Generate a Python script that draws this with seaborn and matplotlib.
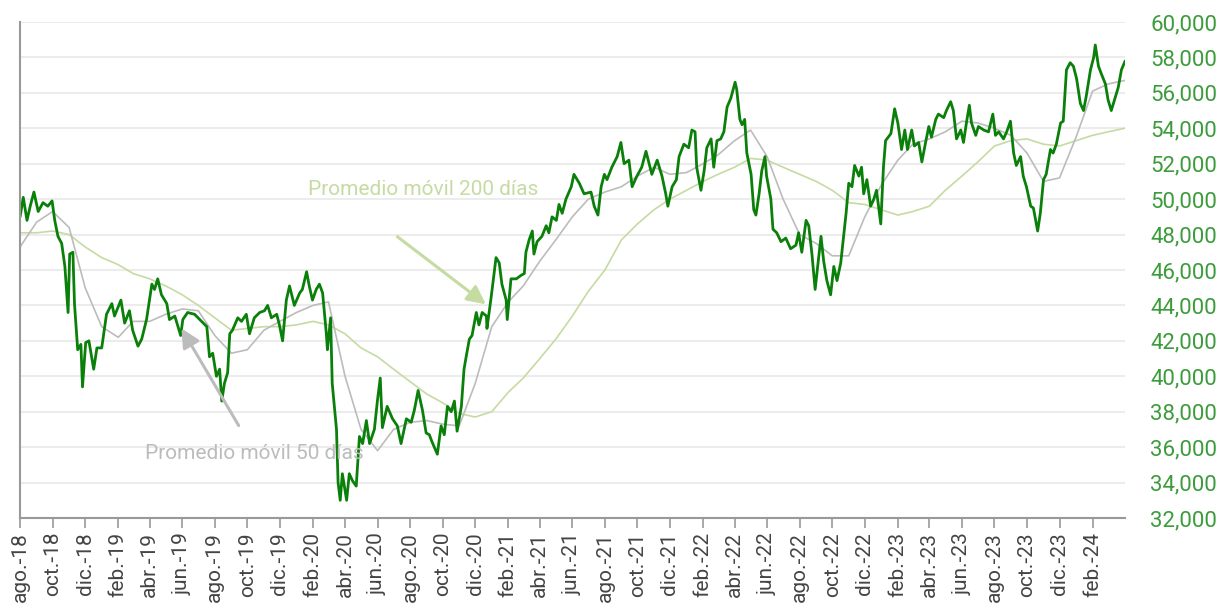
import numpy as np
import pandas as pd
import matplotlib
matplotlib.use("Agg")
import matplotlib.pyplot as plt
import matplotlib.ticker as mticker
import seaborn as sns

# precio diario (lecturas del gráfico)
price_dates = [
    "2018-08-01", "2018-08-07", "2018-08-14", "2018-08-20", "2018-08-27", "2018-09-04", "2018-09-13", "2018-09-22",
    "2018-09-30", "2018-10-05", "2018-10-11", "2018-10-18", "2018-10-24", "2018-10-30", "2018-11-02", "2018-11-08",
    "2018-11-11", "2018-11-17", "2018-11-23", "2018-11-26", "2018-12-02", "2018-12-08", "2018-12-13", "2018-12-17",
    "2018-12-23", "2019-01-01", "2019-01-10", "2019-01-20", "2019-01-25", "2019-02-06", "2019-02-13", "2019-02-22",
    "2019-02-28", "2019-03-10", "2019-03-17", "2019-03-26", "2019-04-05", "2019-04-10", "2019-04-16", "2019-04-23",
    "2019-05-03", "2019-05-08", "2019-05-18", "2019-05-29", "2019-06-02", "2019-06-11", "2019-06-24", "2019-07-07",
    "2019-07-17", "2019-07-22", "2019-07-28", "2019-08-04", "2019-08-10", "2019-08-14", "2019-08-19", "2019-08-25",
    "2019-08-29", "2019-09-03", "2019-09-13", "2019-09-20", "2019-09-29", "2019-10-05", "2019-10-14", "2019-10-24",
    "2019-11-02", "2019-11-08", "2019-11-15", "2019-11-25", "2019-11-30", "2019-12-06", "2019-12-13", "2019-12-19",
    "2019-12-28", "2020-01-07", "2020-01-12", "2020-01-20", "2020-01-25", "2020-01-31", "2020-02-07", "2020-02-13",
    "2020-02-19", "2020-02-26", "2020-02-28", "2020-03-05", "2020-03-08", "2020-03-12", "2020-03-16", "2020-03-19",
    "2020-03-23", "2020-03-27", "2020-04-04", "2020-04-09", "2020-04-15", "2020-04-22", "2020-04-28", "2020-05-04",
    "2020-05-11", "2020-05-17", "2020-05-26", "2020-06-01", "2020-06-06", "2020-06-10", "2020-06-19", "2020-06-29",
    "2020-07-08", "2020-07-15", "2020-07-25", "2020-08-03", "2020-08-09", "2020-08-16", "2020-08-24", "2020-08-31",
    "2020-09-06", "2020-09-11", "2020-09-21", "2020-09-28", "2020-10-04", "2020-10-10", "2020-10-17", "2020-10-23",
    "2020-10-28", "2020-11-05", "2020-11-10", "2020-11-14", "2020-11-20", "2020-11-25", "2020-12-03", "2020-12-08",
    "2020-12-14", "2020-12-22", "2020-12-23", "2020-12-31", "2021-01-09", "2021-01-15", "2021-01-20", "2021-01-28",
    "2021-01-30", "2021-02-06", "2021-02-16", "2021-02-25", "2021-03-03", "2021-03-06", "2021-03-12", "2021-03-18",
    "2021-03-21", "2021-03-27", "2021-04-05", "2021-04-13", "2021-04-18", "2021-04-24", "2021-05-02", "2021-05-07",
    "2021-05-13", "2021-05-20", "2021-05-30", "2021-06-04", "2021-06-14", "2021-06-23", "2021-07-06", "2021-07-12",
    "2021-07-19", "2021-07-25", "2021-07-31", "2021-08-05", "2021-08-14", "2021-08-24", "2021-08-31", "2021-09-06",
    "2021-09-15", "2021-09-21", "2021-09-30", "2021-10-09", "2021-10-17", "2021-10-23", "2021-10-28", "2021-11-07",
    "2021-11-16", "2021-11-23", "2021-11-27", "2021-12-05", "2021-12-13", "2021-12-18", "2021-12-27", "2022-01-05",
    "2022-01-11", "2022-01-17", "2022-01-20", "2022-01-28", "2022-02-03", "2022-02-08", "2022-02-16", "2022-02-21",
    "2022-02-27", "2022-03-06", "2022-03-12", "2022-03-18", "2022-03-25", "2022-04-02", "2022-04-05", "2022-04-11",
    "2022-04-15", "2022-04-20", "2022-04-24", "2022-05-02", "2022-05-07", "2022-05-11", "2022-05-17", "2022-05-22",
    "2022-05-28", "2022-05-31", "2022-06-08", "2022-06-12", "2022-06-19", "2022-06-27", "2022-07-06", "2022-07-15",
    "2022-07-25", "2022-07-30", "2022-08-05", "2022-08-13", "2022-08-18", "2022-08-24", "2022-08-30", "2022-09-10",
    "2022-09-15", "2022-09-21", "2022-09-28", "2022-10-04", "2022-10-10", "2022-10-17", "2022-10-27", "2022-11-01",
    "2022-11-07", "2022-11-12", "2022-11-20", "2022-11-25", "2022-11-29", "2022-12-05", "2022-12-12", "2022-12-18",
    "2022-12-23", "2022-12-31", "2023-01-05", "2023-01-09", "2023-01-19", "2023-01-26", "2023-02-01", "2023-02-08",
    "2023-02-14", "2023-02-19", "2023-02-27", "2023-03-04", "2023-03-12", "2023-03-18", "2023-03-25", "2023-03-31",
    "2023-04-05", "2023-04-13", "2023-04-18", "2023-04-28", "2023-05-03", "2023-05-11", "2023-05-16", "2023-05-22",
    "2023-05-30", "2023-06-04", "2023-06-10", "2023-06-15", "2023-06-19", "2023-06-27", "2023-07-02", "2023-07-12",
    "2023-07-21", "2023-07-29", "2023-08-03", "2023-08-09", "2023-08-18", "2023-08-24", "2023-08-31", "2023-09-06",
    "2023-09-11", "2023-09-19", "2023-09-24", "2023-09-30", "2023-10-08", "2023-10-13", "2023-10-21", "2023-10-26",
    "2023-11-01", "2023-11-06", "2023-11-14", "2023-11-19", "2023-11-25", "2023-12-03", "2023-12-08", "2023-12-14",
    "2023-12-21", "2023-12-27", "2024-01-02", "2024-01-09", "2024-01-15", "2024-01-20", "2024-01-28", "2024-02-03",
    "2024-02-06", "2024-02-12", "2024-02-17", "2024-02-25", "2024-03-01", "2024-03-07", "2024-03-15", "2024-03-20",
    "2024-03-26", "2024-04-02",
]
price = [
    49000, 50100, 48800, 49600, 50400, 49300, 49800, 49600,
    49900, 48800, 47900, 47500, 46200, 43600, 46900, 47000,
    44100, 41500, 41800, 39400, 41900, 42000, 41100, 40400,
    41600, 41600, 43500, 44100, 43400, 44300, 43000, 43700,
    42600, 41700, 42100, 43200, 45200, 44900, 45500, 44600,
    44100, 43200, 43400, 42300, 43200, 43600, 43500, 43100,
    42800, 41100, 41300, 40000, 40400, 38600, 39600, 40200,
    42400, 42600, 43300, 43100, 43500, 42400, 43300, 43600,
    43700, 44000, 43300, 43500, 42900, 42000, 44300, 45100,
    44000, 44700, 44900, 45900, 45100, 44300, 44900, 45200,
    44700, 42400, 41500, 43300, 39600, 38300, 37000, 34000,
    33000, 34500, 33000, 34500, 34100, 33800, 36600, 36200,
    37500, 36200, 37000, 38700, 39900, 37100, 38300, 37600,
    37200, 36200, 37600, 37400, 38100, 39200, 38100, 36800,
    36700, 36300, 35600, 37200, 36700, 38300, 38000, 38600,
    36900, 38300, 40400, 41100, 42100, 42300, 43600, 42900,
    43600, 43400, 42700, 44500, 46700, 46400, 45200, 44300,
    43200, 45500, 45500, 45700, 45800, 47000, 47700, 48200,
    46900, 47600, 47900, 48500, 48100, 49000, 48800, 49700,
    49200, 50000, 50700, 51400, 50900, 50300, 50400, 49600,
    49100, 50700, 51400, 51100, 51800, 52400, 53200, 52000,
    52200, 50700, 51300, 51800, 52700, 52000, 51400, 52200,
    51300, 50300, 49600, 50700, 51100, 52400, 53100, 52900,
    53900, 53800, 51800, 50500, 51600, 52900, 53400, 51800,
    53300, 53400, 53800, 55200, 55700, 56600, 56200, 54500,
    54200, 54500, 52600, 51400, 49400, 49100, 50300, 51600,
    52400, 51300, 50000, 48300, 48100, 47600, 47800, 47200,
    47400, 48100, 47000, 48800, 48500, 46900, 44900, 47900,
    46500, 45400, 44600, 46200, 45400, 46400, 49200, 50900,
    50700, 51900, 51300, 51800, 50300, 51100, 49600, 50000,
    50500, 48600, 51800, 53300, 53700, 55100, 54300, 52800,
    53900, 52800, 53900, 53000, 53200, 52100, 53200, 54100,
    53500, 54500, 54800, 54600, 55000, 55500, 55000, 53400,
    53900, 53200, 54400, 55300, 54300, 53600, 54100, 53900,
    53800, 54800, 53600, 53800, 53400, 53800, 54400, 52600,
    51900, 52400, 51300, 50700, 49600, 49500, 48200, 49200,
    51100, 51400, 52800, 52600, 53100, 54300, 54400, 57300,
    57700, 57500, 56800, 55400, 55000, 55800, 57300, 58000,
    58700, 57500, 57100, 56500, 55600, 55000, 55800, 56300,
    57300, 57800,
]

# promedios móviles (lecturas mensuales)
ma_start = "2018-08-01"
ma50 = [
    47300, 48700, 49300, 48400, 45000, 42800, 42200, 43100, 43100, 43500, 43800, 43700,
    42300, 41300, 41500, 42600, 43100, 43600, 44000, 44200, 40000, 37000, 35800, 37000,
    37400, 37500, 37300, 37200, 39600, 42800, 44200, 45100, 46500, 47700, 49000, 50000,
    50400, 50700, 51300, 51800, 51400, 51500, 52000, 52500, 53300, 53900, 52400, 50000,
    48000, 47500, 46800, 46800, 49000, 50800, 52200, 53100, 53400, 53800, 54400, 54300,
    54000, 53600, 52600, 51000, 51200, 53500, 56100, 56500, 56700,
]
ma200 = [
    48100, 48100, 48200, 48000, 47300, 46700, 46300, 45800, 45500, 45100, 44600, 44000,
    43300, 42600, 42700, 42800, 42800, 42900, 43100, 42900, 42400, 41600, 41100, 40400,
    39700, 39000, 38500, 37900, 37700, 38000, 39100, 39900, 41000, 42100, 43400, 44800,
    46000, 47700, 48600, 49400, 50000, 50500, 51000, 51400, 51800, 52300, 52200, 51800,
    51400, 51000, 50500, 49800, 49700, 49400, 49100, 49300, 49600, 50500, 51300, 52100,
    53000, 53300, 53400, 53100, 53000, 53300, 53600, 53800, 54000,
]

tick_labels = [
    "ago.-18", "oct.-18", "dic.-18", "feb.-19", "abr.-19", "jun.-19", "ago.-19", "oct.-19", "dic.-19",
    "feb.-20", "abr.-20", "jun.-20", "ago.-20", "oct.-20", "dic.-20", "feb.-21", "abr.-21", "jun.-21",
    "ago.-21", "oct.-21", "dic.-21", "feb.-22", "abr.-22", "jun.-22", "ago.-22", "oct.-22", "dic.-22",
    "feb.-23", "abr.-23", "jun.-23", "ago.-23", "oct.-23", "dic.-23", "feb.-24",
]

df_price = pd.DataFrame({"fecha": pd.to_datetime(price_dates), "valor": price})
ma_dates = pd.date_range(ma_start, periods=len(ma50), freq="MS")
df_ma = pd.DataFrame({"fecha": ma_dates, "ma50": ma50, "ma200": ma200})
tick_dates = pd.date_range("2018-08-01", periods=len(tick_labels), freq="2MS")

sns.set_style("white")
plt.rcParams["font.family"] = ["Roboto", "DejaVu Sans"]

fig = plt.figure(figsize=(12.23, 6.04), dpi=100)
ax = fig.add_axes([0.0164, 0.1424, 0.9036, 0.8212])

sns.lineplot(data=df_ma, x="fecha", y="ma200", ax=ax, color="#c5dba2", linewidth=1.2)
sns.lineplot(data=df_ma, x="fecha", y="ma50", ax=ax, color="#bcbcbc", linewidth=1.2)
sns.lineplot(data=df_price, x="fecha", y="valor", ax=ax, color="#0a800a", linewidth=2.0)

ax.set_xlim(pd.Timestamp("2018-08-01"), pd.Timestamp("2024-04-02"))
ax.set_ylim(32000, 60000)
ax.set_yticks(np.arange(32000, 60001, 2000))
ax.yaxis.set_major_formatter(mticker.StrMethodFormatter("{x:,.0f}"))
ax.yaxis.tick_right()
ax.tick_params(axis="y", length=0, pad=18, labelsize=16, labelcolor="#3c9c3c")
ax.grid(axis="y", color="#ececec", linewidth=1.5)
ax.set_axisbelow(True)

ax.set_xticks(tick_dates)
ax.set_xticklabels(tick_labels, rotation=90, va="top", ha="center")
ax.tick_params(axis="x", direction="out", length=7, width=1.2, color="#999999",
               pad=3, labelsize=15, labelcolor="#444444", bottom=True)
ax.set_xlabel("")
ax.set_ylabel("")

for s in ["top", "right"]:
    ax.spines[s].set_visible(False)
for s in ["left", "bottom"]:
    ax.spines[s].set_color("#999999")
    ax.spines[s].set_linewidth(1.5)

ax.annotate("", xy=(0.4235, 0.4274), xytext=(0.3394, 0.5706), xycoords="axes fraction",
            arrowprops=dict(arrowstyle="-|>", color="#c5dba2", lw=2.2, mutation_scale=28))
ax.text(0.2606, 0.663, "Promedio móvil 200 días", transform=ax.transAxes, color="#c5dba2",
        fontsize=15, va="center", ha="left")

ax.annotate("", xy=(0.1448, 0.387), xytext=(0.1991, 0.1815), xycoords="axes fraction",
            arrowprops=dict(arrowstyle="-|>", color="#bcbcbc", lw=2.2, mutation_scale=28))
ax.text(0.1131, 0.131, "Promedio móvil 50 días", transform=ax.transAxes, color="#bcbcbc",
        fontsize=15, va="center", ha="left")

fig.savefig("out.png", dpi=100)
